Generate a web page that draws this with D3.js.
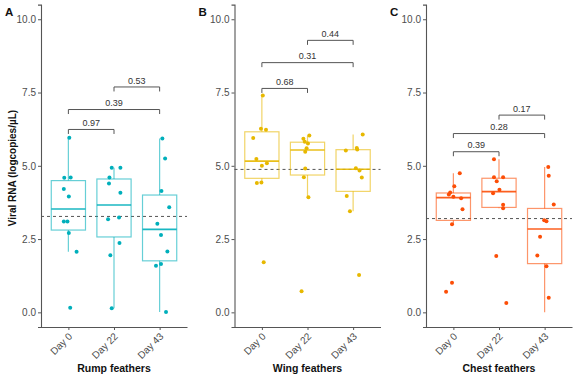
<!DOCTYPE html>
<html><head><meta charset="utf-8">
<script src="https://cdn.jsdelivr.net/npm/d3@7"></script>
<style>body{margin:0;background:#fff}svg{display:block;font-family:"Liberation Sans",Arial,sans-serif}</style>
</head><body><svg id="c" width="575" height="378"></svg>
<script>
const days = ["Day 0", "Day 22", "Day 43"];
const panelLabels = ["A", "B", "C"];
const panelTitles = ["Rump feathers", "Wing feathers", "Chest feathers"];
const colors = ["#00AFBB", "#E7B800", "#FC4E07"];
const yTicks = [0, 2.5, 5, 7.5, 10];
const yTitle = "Viral RNA (logcopies/µL)";

// values per panel per day
const rump = [
  [5.96, 4.59, 4.60, 4.21, 3.95, 3.10, 3.10, 2.71, 2.07, 0.16],
  [4.93, 4.93, 4.60, 4.40, 4.08, 3.18, 3.24, 2.37, 1.95, 0.14],
  [5.93, 5.25, 4.14, 3.59, 3.02, 2.64, 2.08, 1.59, 1.65, 0.01]
];
const wing = [
  [7.40, 6.26, 6.23, 5.95, 5.23, 5.09, 5.00, 4.43, 4.41, 1.71],
  [6.03, 5.92, 5.82, 5.76, 5.60, 5.48, 4.91, 4.61, 3.93, 0.72],
  [6.07, 5.61, 5.56, 5.52, 4.92, 4.84, 4.60, 3.97, 3.45, 1.27]
];
const chest = [
  [4.75, 4.30, 4.09, 4.02, 3.94, 3.89, 3.52, 3.01, 1.01, 0.70],
  [5.22, 4.61, 4.61, 4.47, 4.18, 4.06, 3.67, 3.55, 1.92, 0.32],
  [4.96, 4.66, 3.68, 3.14, 3.11, 2.58, 1.94, 1.57, 0.50, 0.00]
];
// horizontal jitter (in category units); null = point not shown
const rumpJitter = [
  [0.02, -0.09, 0.05, -0.10, 0.01, -0.10, -0.02, 0.01, 0.18, 0.04],
  [-0.05, 0.14, -0.10, -0.11, 0.14, -0.13, 0.11, 0.12, -0.08, -0.05],
  [0.06, 0.12, 0.04, 0.21, -0.05, 0.03, 0.17, -0.08, 0.03, 0.14]
];
const wingJitter = [
  [0.02, -0.02, 0.09, -0.19, -0.12, 0.11, 0.00, -0.01, -0.11, 0.04],
  [0.04, -0.09, -0.06, 0.01, -0.02, -0.05, -0.05, -0.08, 0.02, -0.13],
  [0.21, 0.08, 0.09, -0.16, 0.06, 0.14, 0.19, -0.14, -0.07, 0.13]
];
const chestJitter = [
  [0.14, 0.02, -0.07, -0.10, 0.00, 0.17, 0.20, -0.03, -0.03, -0.16],
  [-0.11, -0.11, 0.09, -0.05, 0.01, -0.13, 0.09, 0.09, -0.06, 0.16],
  [0.08, 0.09, 0.20, -0.01, 0.04, -0.10, -0.16, 0.04, 0.09, null]
];
// p-value brackets: pairs, labels, heights (in y units)
const bracketPairs = [[0, 1], [0, 2], [1, 2]];
const rumpP = ["0.97", "0.39", "0.53"];
const wingP = ["0.68", "0.31", "0.44"];
const chestP = ["0.39", "0.28", "0.17"];
const rumpBracketY = [6.24, 6.92, 7.69];
const wingBracketY = [7.64, 8.52, 9.28];
const chestBracketY = [5.48, 6.10, 6.73];

const panels = [
  {vals: rump, jit: rumpJitter, p: rumpP, by: rumpBracketY},
  {vals: wing, jit: wingJitter, p: wingP, by: wingBracketY},
  {vals: chest, jit: chestJitter, p: chestP, by: chestBracketY}
];

const svg = d3.select("#c");
const panelLeft = [41, 234.5, 426];
const panelW = 146;
const y = d3.scaleLinear().domain([-0.5, 10.5]).range([327, 4.6]);
const axisCol = "#555";
const textCol = "#4d4d4d";

panels.forEach((P, pi) => {
  const g = svg.append("g");
  const left = panelLeft[pi];
  const x = d3.scalePoint().domain(days).range([left, left + panelW]).padding(0.6);
  const step = x.step();
  const bw = step * 0.75;
  const col = colors[pi];

  // mean dashed line
  const all = P.vals.flat();
  const mean = d3.mean(all);
  g.append("line").attr("x1", left).attr("x2", left + panelW)
    .attr("y1", y(mean)).attr("y2", y(mean))
    .attr("stroke", "#555").attr("stroke-width", 1).attr("stroke-dasharray", "3,3");

  // boxes
  days.forEach((d, di) => {
    const v = P.vals[di].slice().sort(d3.ascending);
    const q1 = d3.quantile(v, 0.25), med = d3.quantile(v, 0.5), q3 = d3.quantile(v, 0.75);
    const iqr = q3 - q1;
    const lo = d3.min(v.filter(a => a >= q1 - 1.5 * iqr));
    const hi = d3.max(v.filter(a => a <= q3 + 1.5 * iqr));
    const cx = x(d);
    const bg = g.append("g").attr("stroke", col).attr("fill", "none");
    bg.append("line").attr("x1", cx).attr("x2", cx).attr("y1", y(q3)).attr("y2", y(hi))
      .attr("stroke-width", 1.2).attr("stroke-opacity", 0.6);
    bg.append("line").attr("x1", cx).attr("x2", cx).attr("y1", y(q1)).attr("y2", y(lo))
      .attr("stroke-width", 1.2).attr("stroke-opacity", 0.6);
    bg.append("rect").attr("x", cx - bw / 2).attr("width", bw)
      .attr("y", y(q3)).attr("height", y(q1) - y(q3))
      .attr("stroke-width", 1.2).attr("stroke-opacity", 0.6);
    bg.append("line").attr("x1", cx - bw / 2).attr("x2", cx + bw / 2)
      .attr("y1", y(med)).attr("y2", y(med)).attr("stroke-width", 1.6).attr("stroke-opacity", 0.9);
  });

  // points
  days.forEach((d, di) => {
    P.vals[di].forEach((val, k) => {
      const j = P.jit[di][k];
      if (j === null) return;
      g.append("circle").attr("cx", x(d) + j * step).attr("cy", y(val)).attr("r", 2)
        .attr("fill", col);
    });
  });

  // brackets
  bracketPairs.forEach((pr, bi) => {
    const x1 = x(days[pr[0]]), x2 = x(days[pr[1]]);
    const yy = y(P.by[bi]);
    g.append("path").attr("d", `M${x1},${yy + 4.5}V${yy}H${x2}V${yy + 4.5}`)
      .attr("fill", "none").attr("stroke", "#555").attr("stroke-width", 1);
    g.append("text").attr("x", (x1 + x2) / 2).attr("y", yy - 3.3)
      .attr("text-anchor", "middle").attr("font-size", 9).attr("fill", "#333")
      .text(P.p[bi]);
  });

  // y axis
  const ya = g.append("g").attr("transform", `translate(${left},0)`)
    .call(d3.axisLeft(y).tickValues(yTicks).tickFormat(d3.format(".1f")).tickSize(3).tickPadding(2));
  ya.select(".domain").attr("stroke", axisCol).attr("stroke-width", 1.1);
  ya.selectAll(".tick line").attr("stroke", axisCol);
  ya.selectAll(".tick text").attr("fill", textCol).attr("font-size", 10)
    .attr("font-family", "Liberation Sans, Arial, sans-serif");

  // x axis
  const xa = g.append("g").attr("transform", `translate(0,${y(-0.5)})`)
    .call(d3.axisBottom(x).tickSize(3).tickPadding(2).tickSizeOuter(0));
  xa.select(".domain").attr("stroke", axisCol).attr("stroke-width", 1.1);
  xa.selectAll(".tick line").attr("stroke", axisCol);
  xa.selectAll(".tick text").attr("fill", textCol).attr("font-size", 10)
    .attr("font-family", "Liberation Sans, Arial, sans-serif")
    .attr("text-anchor", "end").attr("dy", null).attr("y", 0)
    .attr("transform", "translate(4,10) rotate(-45)");

  // x title
  g.append("text").attr("x", left + panelW / 2).attr("y", 372)
    .attr("text-anchor", "middle").attr("font-weight", "bold").attr("font-size", 10.5)
    .attr("fill", "#111").text(panelTitles[pi]);

  // panel label
  g.append("text").attr("x", left - 36).attr("y", 16)
    .attr("font-weight", "bold").attr("font-size", 11.5).attr("fill", "#111")
    .text(panelLabels[pi]);
});

// y title
svg.append("text").attr("transform", `translate(16,168) rotate(-90)`)
  .attr("text-anchor", "middle").attr("font-weight", "bold").attr("font-size", 10)
  .attr("fill", "#111").text(yTitle);
</script></body></html>
